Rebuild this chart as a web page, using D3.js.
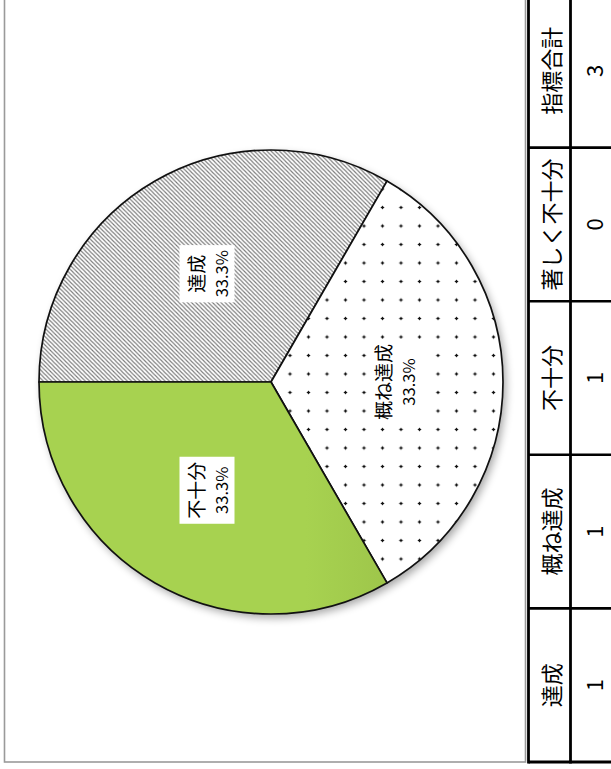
<!DOCTYPE html>
<html><head><meta charset="utf-8">
<script src="https://cdn.jsdelivr.net/npm/d3@7"></script>
<style>
html,body{margin:0;padding:0;background:#fff;}
svg{display:block;}
text{font-family:"Noto Sans CJK JP","Noto Sans",sans-serif;}
</style></head>
<body>
<svg id="chart" width="611" height="769"></svg>
<script>
// ---- data ----
const categories = ["達成", "概ね達成", "不十分", "著しく不十分"];
const counts = [1, 1, 1, 0];
const percentLabels = ["33.3%", "33.3%", "33.3%", "0.0%"];
const tableHeaders = ["達成", "概ね達成", "不十分", "著しく不十分", "指標合計"];
const tableValues = ["1", "1", "1", "0", "3"];

const svg = d3.select("#chart");
const defs = svg.append("defs");

// hatch pattern
const hatch = defs.append("pattern").attr("id","hatch").attr("patternUnits","userSpaceOnUse")
  .attr("width",4.2).attr("height",4.2);
hatch.append("rect").attr("width",4.2).attr("height",4.2).attr("fill","#fff");
hatch.append("path").attr("d","M0,0L4.2,4.2M-1,3.2L1,5.2M3.2,-1L5.2,1")
  .attr("stroke","#7a7a7a").attr("stroke-width",1.15);

// dot pattern
const dots = defs.append("pattern").attr("id","dots").attr("patternUnits","userSpaceOnUse")
  .attr("x",305.75).attr("y",278.75).attr("width",18.5).attr("height",18.5);
dots.append("rect").attr("width",18.5).attr("height",18.5).attr("fill","#fff");
dots.append("path").attr("d","M9.25,7.2L10.6,9.25L9.25,11.3L7.9,9.25Z M7.2,9.25L9.25,7.9L11.3,9.25L9.25,10.6Z")
  .attr("fill","#111");

// green gradient
const grad = defs.append("linearGradient").attr("id","green").attr("gradientUnits","userSpaceOnUse")
  .attr("x1",35).attr("y1",0).attr("x2",390).attr("y2",0);
grad.append("stop").attr("offset","0%").attr("stop-color","#a7d250");
grad.append("stop").attr("offset","100%").attr("stop-color","#809d38");

// shadow filter
const f = defs.append("filter").attr("id","shadow").attr("x","-20%").attr("y","-20%").attr("width","140%").attr("height","140%");
f.append("feGaussianBlur").attr("in","SourceAlpha").attr("stdDeviation",4);
f.append("feOffset").attr("dx",3).attr("dy",4).attr("result","b");
f.append("feComponentTransfer").append("feFuncA").attr("type","linear").attr("slope",0.35);
const fm = f.append("feMerge"); fm.append("feMergeNode"); fm.append("feMergeNode").attr("in","SourceGraphic");

// frame
svg.append("rect").attr("x",4.5).attr("y",-5).attr("width",521).attr("height",767)
  .attr("fill","#fff").attr("stroke","#9a9a9a").attr("stroke-width",1.6);

// pie
const cx = 271, cy = 382, R = 232;
const fills = ["url(#hatch)", "url(#dots)", "url(#green)", "#ffffff"];
const data = categories.map((c,i)=>({cat:c, value:counts[i], pct:percentLabels[i], fill:fills[i]}));
const pie = d3.pie().value(d=>d.value).sort(null).startAngle(-Math.PI/2).endAngle(1.5*Math.PI);
const arcs = pie(data);
const arc = d3.arc().innerRadius(0).outerRadius(R);
const labelArc = d3.arc().innerRadius(125).outerRadius(125);

const g = svg.append("g").attr("transform",`translate(${cx},${cy})`);
g.append("circle").attr("r",R).attr("fill","#fff").attr("filter","url(#shadow)");
g.selectAll("path.slice").data(arcs.filter(d=>d.data.value>0)).join("path")
  .attr("class","slice").attr("d",arc).attr("fill",d=>d.data.fill)
  .attr("stroke","#111").attr("stroke-width",1.7).attr("stroke-linejoin","round");

const lab = g.selectAll("g.lab").data(arcs.filter(d=>d.data.value>0)).join("g")
  .attr("class","lab")
  .attr("transform",d=>{const c=labelArc.centroid(d);return `translate(${c[0]},${c[1]}) rotate(-90)`;});
lab.each(function(d){
  const s = d3.select(this);
  const bg = s.append("rect").attr("fill","#fff");
  const t1 = s.append("text").attr("text-anchor","middle").attr("y",-5).attr("font-size",19).attr("fill","#000").text(d.data.cat);
  const t2 = s.append("text").attr("text-anchor","middle").attr("y",19).attr("font-size",16.5).attr("fill","#000").text(d.data.pct);
  const b1 = t1.node().getBBox(), b2 = t2.node().getBBox();
  const x0 = Math.min(b1.x,b2.x)-5, x1 = Math.max(b1.x+b1.width,b2.x+b2.width)+5;
  const y0 = b1.y-2, y1 = b2.y+b2.height+2;
  bg.attr("x",x0).attr("y",y0).attr("width",x1-x0).attr("height",y1-y0);
});

// table (rotated layout)
const tx0 = 528.5, tx1 = 570.5, tx2 = 613;
const band = d3.scaleBand().domain(tableHeaders).range([762, -6]).paddingInner(0).paddingOuter(0);
const tg = svg.append("g");
tg.append("rect").attr("x",tx0).attr("y",-10).attr("width",tx2-tx0+5).attr("height",772).attr("fill","#fff");
tableHeaders.forEach((h,i)=>{
  const y = band(h), bw = band.bandwidth(), ym = y + bw/2;
  tg.append("text").attr("transform",`translate(${(tx0+tx1)/2},${ym}) rotate(-90)`)
    .attr("text-anchor","middle").attr("dominant-baseline","central")
    .attr("font-size",22).attr("fill","#000").text(h);
  tg.append("text").attr("transform",`translate(${(tx1+tx2)/2+1},${ym}) rotate(-90)`)
    .attr("text-anchor","middle").attr("dominant-baseline","central")
    .attr("font-size",22).attr("fill","#000").text(tableValues[i]);
  if (y > 0) tg.append("line").attr("x1",tx0).attr("x2",tx2).attr("y1",y).attr("y2",y)
    .attr("stroke","#000").attr("stroke-width",2.6);
});
tg.append("line").attr("x1",tx0).attr("x2",tx2).attr("y1",762).attr("y2",762).attr("stroke","#000").attr("stroke-width",2.8);
[tx0, tx1].forEach(x=>tg.append("line").attr("x1",x).attr("x2",x).attr("y1",-5).attr("y2",763.4)
  .attr("stroke","#000").attr("stroke-width",2.8));
</script>
</body></html>
